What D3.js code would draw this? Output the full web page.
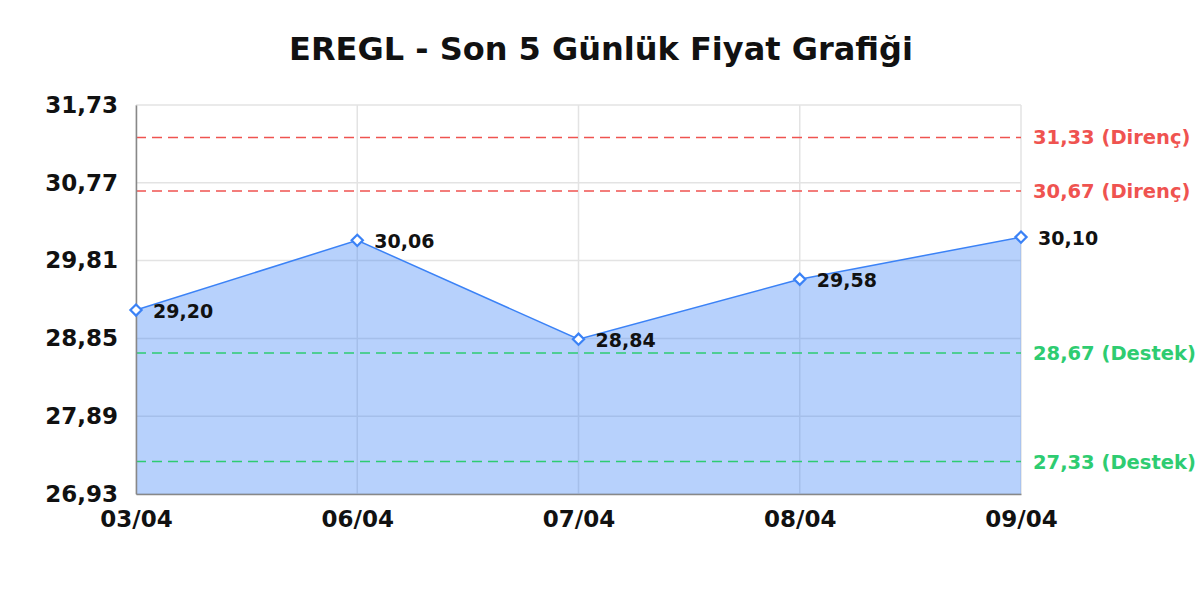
<!DOCTYPE html>
<html>
<head>
<meta charset="utf-8">
<script src="https://cdn.jsdelivr.net/npm/d3@7"></script>
<style>
  body { margin: 0; background: #fff; }
  svg text { font-family: "DejaVu Sans", sans-serif; font-weight: bold; }
</style>
</head>
<body>
<svg id="chart" width="1200" height="600"></svg>
<script>
// data
var dates = ["03/04", "06/04", "07/04", "08/04", "09/04"];
var prices = [29.20, 30.06, 28.84, 29.58, 30.10];
var yTicks = [26.93, 27.89, 28.85, 29.81, 30.77, 31.73];
var resistance = [31.33, 30.67];
var support = [28.67, 27.33];

var margin = {top: 105, right: 179, bottom: 106, left: 136};
var width = 1200 - margin.left - margin.right,
    height = 600 - margin.top - margin.bottom;

var fmt = function(v) { return v.toFixed(2).replace(".", ","); };

var svg = d3.select("#chart");

svg.append("text")
  .attr("x", 601).attr("y", 60)
  .attr("text-anchor", "middle")
  .attr("font-size", 32)
  .attr("fill", "#111")
  .text("EREGL - Son 5 Günlük Fiyat Grafiği");

var g = svg.append("g").attr("transform", "translate(" + margin.left + "," + margin.top + ")");

var x = d3.scalePoint().domain(dates).range([0, width]);
var y = d3.scaleLinear().domain([yTicks[0], yTicks[yTicks.length - 1]]).range([height, 0]);

// grid
g.selectAll(".hgrid").data(yTicks).enter().append("line")
  .attr("x1", 0).attr("x2", width)
  .attr("y1", function(d) { return y(d); }).attr("y2", function(d) { return y(d); })
  .attr("stroke", "#e3e3e3").attr("stroke-width", 1.5);
g.selectAll(".vgrid").data(dates).enter().append("line")
  .attr("x1", function(d) { return x(d); }).attr("x2", function(d) { return x(d); })
  .attr("y1", 0).attr("y2", height)
  .attr("stroke", "#e3e3e3").attr("stroke-width", 1.5);

// area + line
var pts = dates.map(function(d, i) { return {d: d, v: prices[i]}; });
g.append("path").datum(pts)
  .attr("fill", "rgba(59,130,246,0.37)")
  .attr("d", d3.area().x(function(p) { return x(p.d); }).y0(height).y1(function(p) { return y(p.v); }));
g.append("path").datum(pts)
  .attr("fill", "none").attr("stroke", "#3b82f6").attr("stroke-width", 1.5)
  .attr("d", d3.line().x(function(p) { return x(p.d); }).y(function(p) { return y(p.v); }));

// level lines
function levels(vals, color, name) {
  g.selectAll(".lvl-" + name).data(vals).enter().append("line")
    .attr("x1", 0).attr("x2", width)
    .attr("y1", function(d) { return y(d); }).attr("y2", function(d) { return y(d); })
    .attr("stroke", color).attr("stroke-width", 1.5).attr("stroke-dasharray", "10,6");
  g.selectAll(".lbl-" + name).data(vals).enter().append("text")
    .attr("x", width + 12).attr("y", function(d) { return y(d); })
    .attr("dy", "0.36em").attr("font-size", 19.5).attr("fill", color)
    .text(function(d) { return fmt(d) + " (" + name + ")"; });
}
levels(resistance, "#ef5350", "Direnç");
levels(support, "#2ecc71", "Destek");

// axes
var yAxis = g.append("g").call(d3.axisLeft(y).tickValues(yTicks).tickSize(0).tickPadding(18).tickFormat(fmt));
yAxis.select(".domain").attr("stroke", "#888").attr("stroke-width", 1.5);
yAxis.selectAll("text").attr("font-size", 23).attr("fill", "#111").attr("font-family", "DejaVu Sans");

var xAxis = g.append("g").attr("transform", "translate(0," + height + ")")
  .call(d3.axisBottom(x).tickSize(0).tickPadding(17));
xAxis.select(".domain").attr("stroke", "#888").attr("stroke-width", 1.5);
xAxis.selectAll("text").attr("font-size", 23).attr("fill", "#111").attr("font-family", "DejaVu Sans");

// markers
g.selectAll(".marker").data(pts).enter().append("path")
  .attr("d", d3.symbol().type(d3.symbolDiamond2).size(80))
  .attr("transform", function(p) { return "translate(" + x(p.d) + "," + y(p.v) + ")"; })
  .attr("fill", "#fff").attr("stroke", "#3b82f6").attr("stroke-width", 2.2);

g.selectAll(".plabel").data(pts).enter().append("text")
  .attr("x", function(p) { return x(p.d) + 17; })
  .attr("y", function(p) { return y(p.v); })
  .attr("dy", "0.4em").attr("font-size", 19).attr("fill", "#111")
  .text(function(p) { return fmt(p.v); });
</script>
</body>
</html>
